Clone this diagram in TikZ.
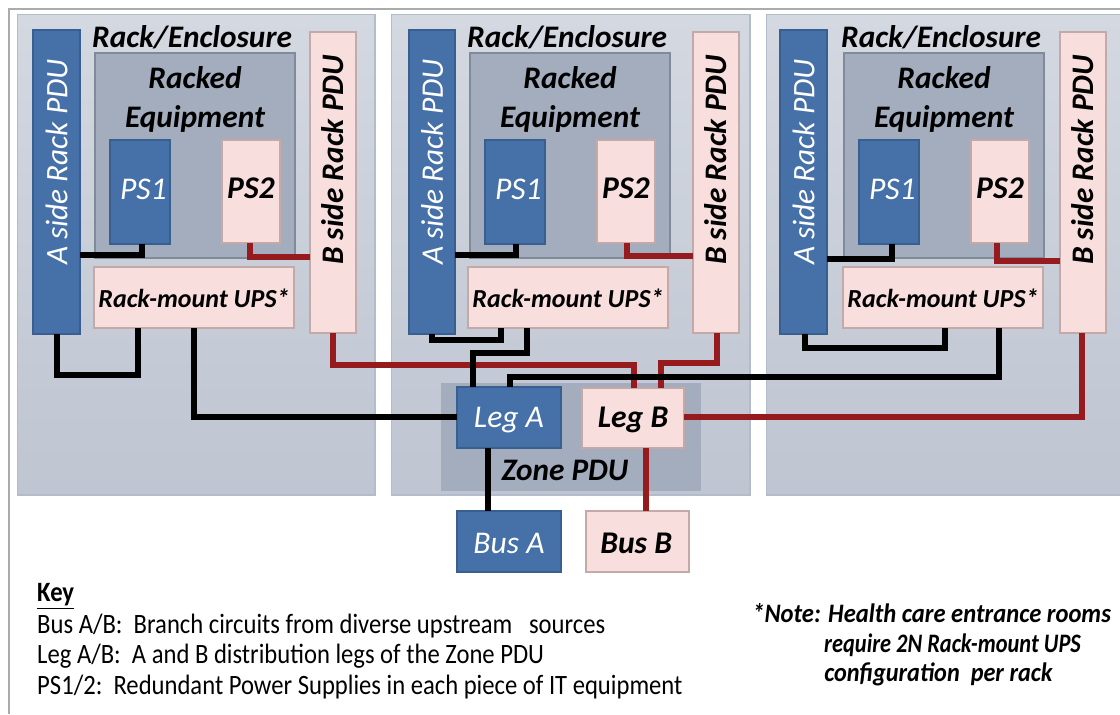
\documentclass[tikz,border=0pt]{standalone}
\usepackage{fontspec}
\setmainfont{Carlito}
\definecolor{panelT}{HTML}{D3D8E1}
\definecolor{panelB}{HTML}{BFC5D1}
\definecolor{panelL}{HTML}{B2BCCB}
\definecolor{equipF}{HTML}{A3ADBD}
\definecolor{equipL}{HTML}{808B99}
\definecolor{blueF}{HTML}{4570A8}
\definecolor{blueL}{HTML}{395F90}
\definecolor{pinkF}{HTML}{F9DEDE}
\definecolor{pinkL}{HTML}{C4A9A9}
\definecolor{wireR}{HTML}{951B1E}
\definecolor{frameC}{HTML}{ABABAB}
\tikzset{
  base/.style={inner sep=0pt,outer sep=0pt,line width=1.1pt},
  panel/.style={base,top color=panelT,bottom color=panelB,draw=panelL,line width=.8pt},
  zone/.style={base,fill=equipF,draw=none},
  equip/.style={base,fill=equipF,draw=equipL,line width=1.3pt},
  bluebox/.style={base,fill=blueF,draw=blueL,text=white,font=\fontsize{23.7}{26}\selectfont\itshape},
  pinkbox/.style={base,fill=pinkF,draw=pinkL,text=black,font=\fontsize{23.7}{26}\selectfont\bfseries\itshape},
  upsbox/.style={pinkbox,font=\fontsize{19.5}{22}\selectfont\bfseries\itshape},
  title/.style={inner sep=0pt,font=\fontsize{23.5}{26}\selectfont\bfseries\itshape,text=black},
  vwhite/.style={inner sep=0pt,rotate=90,text=white,font=\fontsize{23.5}{26}\selectfont\itshape},
  vblack/.style={inner sep=0pt,rotate=90,text=black,font=\fontsize{23.5}{26}\selectfont\bfseries\itshape},
  keyt/.style={inner sep=0pt,anchor=west,xscale=.88,font=\fontsize{21}{24}\selectfont},
  notet/.style={inner sep=0pt,anchor=west,font=\fontsize{20}{23}\selectfont\bfseries\itshape},
  blk/.style={line width=4.2pt,black,line cap=butt,line join=miter},
  redw/.style={line width=4.2pt,wireR,line cap=butt,line join=miter},
}
\newcommand{\bx}[7]{%
  \pgfmathsetlengthmacro{\bw}{(#4-#2)*0.75pt}%
  \pgfmathsetlengthmacro{\bh}{(#5-#3)*0.75pt}%
  \pgfmathsetmacro{\cxx}{(#2+#4)/2}%
  \pgfmathsetmacro{\cyy}{(#3+#5)/2}%
  \node[#6,minimum width=\bw,minimum height=\bh] (#1) at (\cxx,\cyy) {#7};%
}
\newcommand{\rackparts}[8]{%
  % #1 id, #2 A x1, #3 A x2, #4 equip x1, #5 PS1 x1, #6 PS2 x1, #7 B x1, #8 UPS x1
  \pgfmathsetmacro{\ex}{#4+200}\pgfmathsetmacro{\px}{#5+60}\pgfmathsetmacro{\qx}{#6+58}\pgfmathsetmacro{\bxx}{#7+46}\pgfmathsetmacro{\ux}{#8+200}%
  \edef\tmpA{\noexpand\bx{equip#1}{#4}{53}{\ex}{258}{equip}{}}\tmpA
  \edef\tmpA{\noexpand\bx{pduA#1}{#2}{30}{#3}{334}{bluebox}{}}\tmpA
  \edef\tmpA{\noexpand\bx{pduB#1}{#7}{32}{\bxx}{333}{pinkbox}{}}\tmpA
  \edef\tmpA{\noexpand\bx{psa#1}{#5}{140}{\px}{244}{bluebox}{\noexpand\hspace*{5pt}\noexpand\raisebox{0pt}[11.2pt][0pt]{PS1}}}\tmpA
  \edef\tmpA{\noexpand\bx{psb#1}{#6}{140}{\qx}{243}{pinkbox}{\noexpand\raisebox{0pt}[11.2pt][0pt]{PS2}}}\tmpA
  \edef\tmpA{\noexpand\bx{ups#1}{#8}{267}{\ux}{328}{upsbox}{\noexpand\raisebox{0pt}[15pt][0pt]{Rack-mount UPS*}}}\tmpA
  \node[vwhite] (lblA#1) at (pduA#1.center |- 0,162) {A side Rack PDU};
  \node[vblack,xshift=1.5pt] (lblB#1) at (pduB#1.center |- 0,162) {B side Rack PDU};
  \pgfmathsetmacro{\tx}{#4+100}%
  \node[title] (lblE#1a) at (\tx,78) {Racked};
  \node[title] (lblE#1b) at (\tx,119) {Equipment};
  \pgfmathsetmacro{\tx}{#4+97}%
  \node[title] (lblR#1) at (\tx,37) {Rack/Enclosure};
}
\begin{document}
\begin{tikzpicture}[x=0.75pt,y=-0.75pt]
\useasboundingbox (0,0) rectangle (1120,714);
\fill[white] (0,0) rectangle (1120,714);
\coordinate (fa) at (8.5,714);
\coordinate (fb) at (8.5,8.5);
\coordinate (fc) at (1120,8.5);
\draw[frameC,line width=1.5pt] (fa) -- (fb) -- (fc);
\bx{panel1}{17.5}{14.5}{375}{495}{panel}{}
\bx{panel2}{391.5}{14.5}{750}{495}{panel}{}
\bx{panel3}{766.5}{14.5}{1124}{495}{panel}{}
\bx{zonepdu}{441}{383}{701}{491}{zone}{}
\rackparts{1}{33}{80}{95}{110}{222}{310}{94}
\rackparts{2}{409}{455}{470}{485}{597}{693}{468}
\rackparts{3}{780}{827}{844}{859}{971}{1060}{843}
\bx{legA}{457}{387}{561}{448}{bluebox}{\raisebox{0pt}[14.5pt][0pt]{Leg A}}
\bx{legB}{582}{388}{684}{448}{pinkbox}{\raisebox{0pt}[14.5pt][0pt]{Leg B}}
\bx{busA}{457}{511}{561}{572}{bluebox}{\raisebox{0pt}[18pt][0pt]{Bus A}}
\bx{busB}{586}{511}{689}{572}{pinkbox}{\hspace*{-2pt}\raisebox{0pt}[18pt][0pt]{Bus B}}
\node[title] (zonelbl) at (565,470) {Zone PDU};
% red wires
\draw[redw] (psb1.south -| 250,0) |- (pduB1.west |- 0,257);
\draw[redw] (psb2.south -| 627,0) |- (pduB2.west |- 0,256);
\draw[redw] (psb3.south -| 997,0) |- (pduB3.west |- 0,261);
\draw[redw] (pduB1.south -| 333,0) |- (634,365) -- (legB.north -| 634,0);
\draw[redw] (pduB2.south -| 717,0) |- (661,363) -- (legB.north -| 661,0);
\draw[redw] (pduB3.south -| 1082,0) |- (legB.east |- 0,417);
\draw[redw] (legB.south -| 646,0) -- (busB.north -| 646,0);
% black wires
\draw[blk] (pduA1.east |- 0,255) -- (142,255) -- (psa1.south -| 142,0);
\draw[blk] (pduA2.east |- 0,255) -- (516,255) -- (psa2.south -| 516,0);
\draw[blk] (pduA3.east |- 0,259) -- (892,259) -- (psa3.south -| 892,0);
\draw[blk] (pduA1.south -| 57,0) |- (138,375) -- (ups1.south -| 138,0);
\draw[blk] (pduA2.south -| 432,0) |- (501,340) -- (ups2.south -| 501,0);
\draw[blk] (pduA3.south -| 805,0) |- (945,348) -- (ups3.south -| 945,0);
\draw[blk] (ups1.south -| 194,0) |- (legA.west |- 0,417);
\draw[blk] (ups2.south -| 527,0) |- (473,353) -- (legA.north -| 473,0);
\draw[blk] (ups3.south -| 999,0) |- (510,377) -- (legA.north -| 510,0);
\draw[blk] (legA.south -| 488,0) -- (busA.north -| 488,0);
% key
\node[keyt] (k0) at (37,596) {\underline{\textbf{Key}}};
\node[keyt] (k1) at (37,626) {Bus A/B:\ \ Branch circuits from diverse upstream\ \ \ sources};
\node[keyt] (k2) at (37,656) {Leg A/B:\ \ A and B distribution legs of the Zone PDU};
\node[keyt] (k3) at (37,687) {PS1/2:\ \ Redundant Power Supplies in each piece of IT equipment};
\node[notet,xscale=.923] (n1) at (752,613) {*Note: Health care entrance rooms};
\node[notet,xscale=.84] (n2) at (824,645) {require 2N Rack-mount UPS};
\node[notet,xscale=.91] (n3) at (824,674) {configuration\ \ per rack};
\end{tikzpicture}
\end{document}
